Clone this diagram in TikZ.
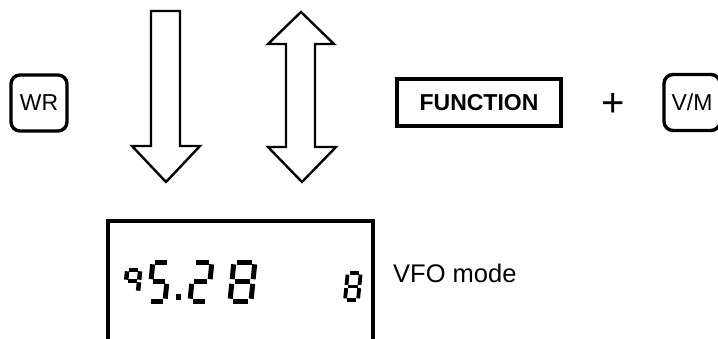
\documentclass[tikz,border=0pt]{standalone}
\usepackage{fontspec}
\setmainfont{Liberation Sans}
\usetikzlibrary{positioning}

% segments of a seven-segment figure, in unit coordinates
\tikzset{
  seg a/.style={insert path={(0.14,1)--(0.86,1)}},
  seg b/.style={insert path={(1,0.94)--(1,0.56)}},
  seg c/.style={insert path={(1,0.44)--(1,0.06)}},
  seg d/.style={insert path={(0.14,0)--(0.86,0)}},
  seg e/.style={insert path={(0,0.44)--(0,0.06)}},
  seg f/.style={insert path={(0,0.94)--(0,0.56)}},
  seg g/.style={insert path={(0.14,0.5)--(0.86,0.5)}}
}

% x, y, width, height, line width, segments
\newcommand{\lcddigit}[6]{%
  \begin{scope}[shift={(#1,#2)}, x=#3pt, y=#4pt, xslant=0.1]
    \foreach \s in {#6} \draw[line width=#5pt, line cap=butt, seg \s];
  \end{scope}}

\begin{document}
\begin{tikzpicture}[
    x=1pt, y=1pt,
    key/.style={draw, line width=3.4pt, rounded corners=9pt, inner sep=0pt,
                minimum width=56pt, minimum height=56pt,
                font=\fontsize{23}{23}\selectfont},
    fkey/.style={draw, line width=3.4pt, inner sep=0pt,
                 minimum width=164pt, minimum height=47pt,
                 font=\fontsize{23}{23}\selectfont\bfseries},
    bigarrow/.style={draw, line width=2.4pt, line join=miter},
    panel/.style={draw, line width=3.2pt}
  ]
  \useasboundingbox (0,0) rectangle (718,338);

  % keys
  \node[key] (wr) at (39,235) {WR};
  \node[fkey] (func) at (479,235.5) {FUNCTION};
  \node[font=\fontsize{40}{40}\selectfont, inner sep=0pt] (plus) at (613.5,233) {+};
  \node[key] (vm) at (692,235.5) {V/M};

  % arrows
  \draw[bigarrow] (151,327) -- (180,327) -- (180,192) -- (200,192) -- (166,156)
    -- (132,192) -- (151,192) -- cycle;
  \draw[bigarrow] (301,326) -- (334,294) -- (315,294) -- (315,191) -- (336,191)
    -- (302,156) -- (268,191) -- (286,191) -- (286,294) -- (268,294) -- cycle;

  % display
  \draw[panel] (108,-5) |- (373,117) -- (373,-5);
  \lcddigit{125}{46}{13}{22}{4.5}{a,b,c,f,g}
  \lcddigit{149}{37}{16}{39}{5}{a,f,g,c,d}
  \fill (175.5,38.5) rectangle (181,44);
  \lcddigit{190}{37}{18}{39}{5}{a,b,g,e,d}
  \lcddigit{230}{37}{21}{39}{5}{a,b,c,d,e,f,g}
  \lcddigit{345}{38}{13}{27}{3.8}{a,b,c,d,e,f,g}

  \node[anchor=base west, inner sep=0pt, font=\fontsize{25.5}{25.5}\selectfont]
    (vfo) at (393,56) {VFO mode};
\end{tikzpicture}
\end{document}
